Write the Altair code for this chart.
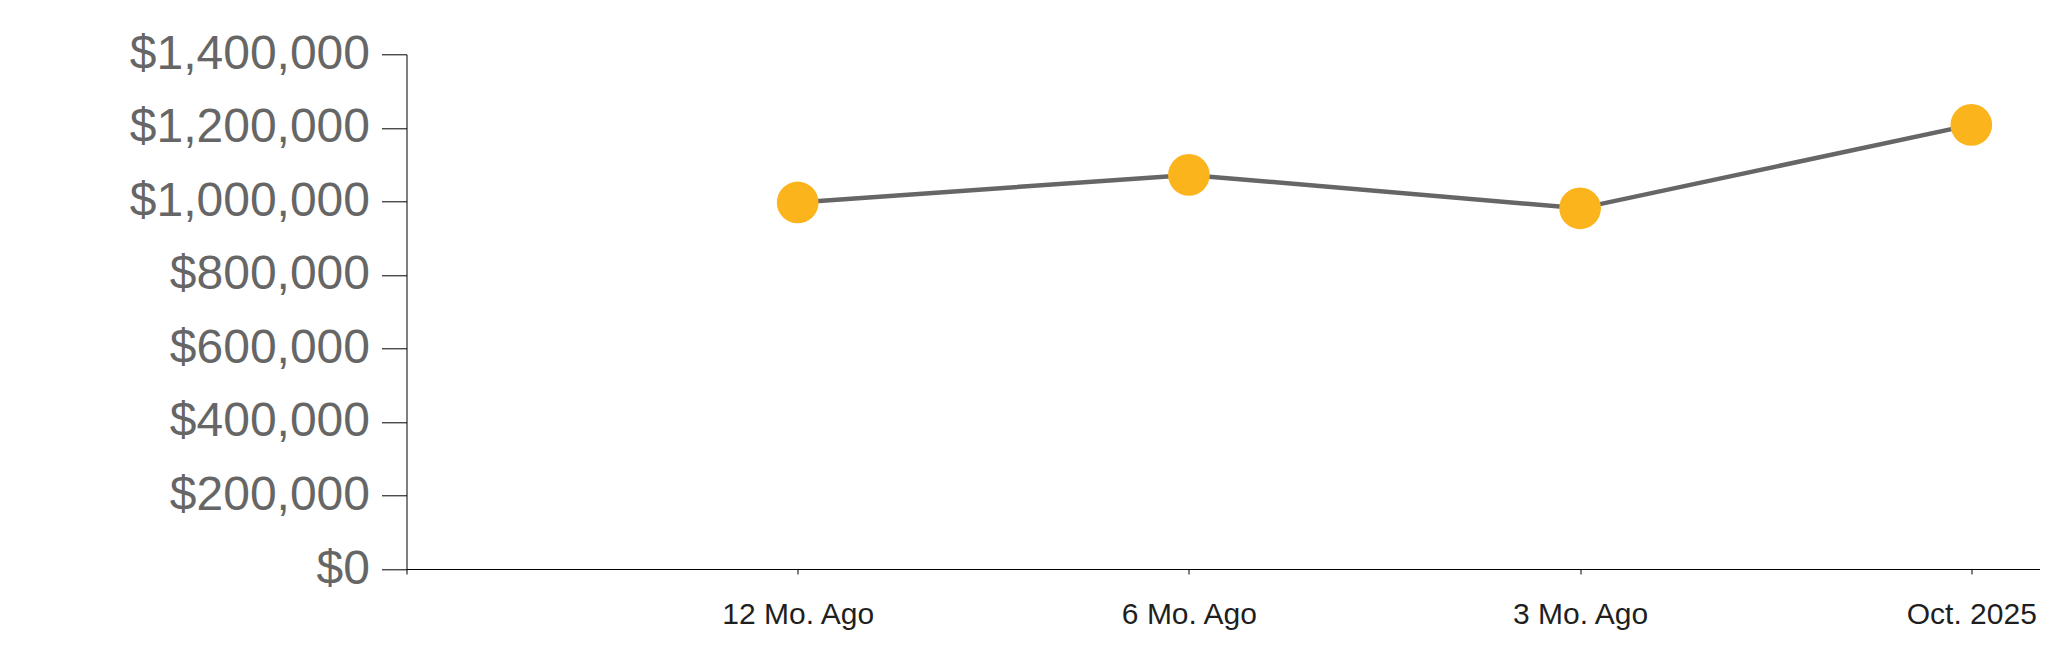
import json
import altair as alt
import pandas as pd

# ---- data ----
categories = ["12 Mo. Ago", "6 Mo. Ago", "3 Mo. Ago", "Oct. 2025"]
values = [997000, 1072000, 981000, 1208000]
positions = [1, 2, 3, 4]
tick_labels = [""] + categories          # the blank first slot on the x axis
tick_positions = [0, 1, 2, 3, 4]
y_ticks = [0, 200000, 400000, 600000, 800000, 1000000, 1200000, 1400000]

df = pd.DataFrame({"pos": positions, "label": categories, "value": values})

label_expr = json.dumps(tick_labels) + "[datum.value]"

x_enc = alt.X(
    "pos:Q",
    title=None,
    scale=alt.Scale(domain=[0, 4.1756], nice=False, zero=False),
    axis=alt.Axis(
        values=tick_positions,
        labelExpr=label_expr,
        grid=False,
        domainColor="#000000",
        domainWidth=1,
        tickColor="#000000",
        tickSize=5,
        labelFont="Liberation Sans",
        labelFontSize=30,
        labelColor="#1f1f1f",
        labelPadding=25,
        labelFlush=False,
        labelOverlap=False,
        labelLimit=0,
    ),
)

y_enc = alt.Y(
    "value:Q",
    title=None,
    scale=alt.Scale(domain=[0, 1400000], nice=False),
    axis=alt.Axis(
        values=y_ticks,
        format="$,.0f",
        grid=False,
        domainColor="#000000",
        domainWidth=1,
        tickColor="#000000",
        tickSize=25,
        labelFont="Liberation Sans",
        labelFontSize=48,
        labelColor="#666666",
        labelPadding=12,
        labelFlush=False,
        labelOverlap=False,
        labelLimit=0,
    ),
)

base = alt.Chart(df).encode(x=x_enc, y=y_enc)

line = base.mark_line(color="#666666", strokeWidth=4.5)
points = base.mark_point(filled=True, opacity=1, color="#FCB41C", size=1740, shape="circle")

chart = (
    alt.layer(line, points)
    .properties(
        width=1633.5,
        height=514.7,
        autosize=alt.AutoSizeParams(type="none"),
        padding={"left": 398.5, "top": 46.3, "right": 0, "bottom": 75},
    )
    .configure_view(stroke=None)
)

chart.save("out.html", embed_options={"renderer": "svg", "actions": False})
